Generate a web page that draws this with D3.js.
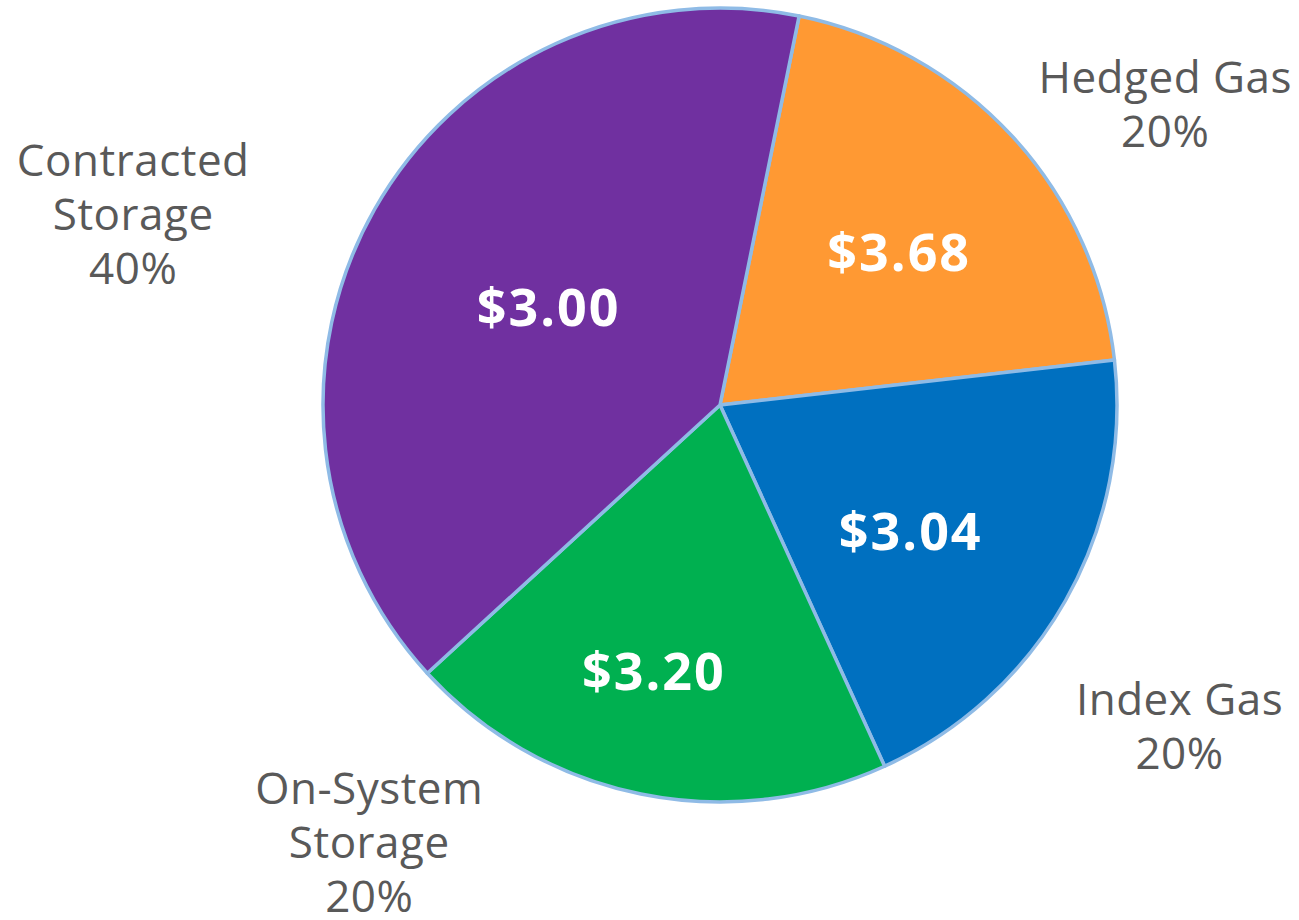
<!DOCTYPE html>
<html>
<head>
<meta charset="utf-8">
<script src="https://cdn.jsdelivr.net/npm/d3@7"></script>
<style>
  html, body { margin: 0; padding: 0; background: #fff; }
  svg text { font-family: "Open Sans", "DejaVu Sans", sans-serif; }
</style>
</head>
<body>
<svg id="chart" width="1299" height="920"></svg>
<script>
// data
var categories = ["Hedged Gas", "Index Gas", "On-System Storage", "Contracted Storage"];
var shares = [20, 20, 20, 40];
var prices = ["$3.68", "$3.04", "$3.20", "$3.00"];
var nameLines = [["Hedged Gas"], ["Index Gas"], ["On-System", "Storage"], ["Contracted", "Storage"]];
var colors = ["#FF9933", "#0070C0", "#00B050", "#7030A0"];

// layout
var cx = 720, cy = 405, radius = 397;
var startDeg = 11.5;
// polar placement of labels: [angle in degrees clockwise from top, distance from center]
var pricePos = [[49.7, 235], [123.6, 229], [193.9, 275], [299.6, 197]];
var namePos = [[56, 537], [125, 561], [218.7, 561], [288, 617]];
var lineHeight = 54;

var svg = d3.select('#chart');
var g = svg.append('g').attr('transform', 'translate(' + cx + ',' + cy + ')');

var pie = d3.pie().sort(null).value(function(d) { return d; })
	.startAngle(startDeg * Math.PI / 180)
	.endAngle(startDeg * Math.PI / 180 + 2 * Math.PI);
var arcs = pie(shares);
var arc = d3.arc().innerRadius(0).outerRadius(radius);

g.selectAll('path.slice').data(arcs).enter().append('path')
	.attr('class', 'slice')
	.attr('d', arc)
	.attr('fill', function(d, i) { return colors[i]; })
	.attr('stroke', '#8FBBE6')
	.attr('stroke-width', 3.5)
	.attr('stroke-linejoin', 'round');

var polar = function(p) {
	var a = p[0] * Math.PI / 180;
	return [Math.sin(a) * p[1], -Math.cos(a) * p[1]];
};

// price labels inside the slices
g.selectAll('text.price').data(arcs).enter().append('text')
	.attr('class', 'price')
	.attr('x', function(d, i) { return polar(pricePos[i])[0]; })
	.attr('y', function(d, i) { return polar(pricePos[i])[1]; })
	.attr('dy', '0.35em')
	.attr('text-anchor', 'middle')
	.attr('fill', '#fff')
	.attr('font-weight', 'bold')
	.attr('font-size', 52)
	.attr('letter-spacing', 2)
	.text(function(d, i) { return prices[i]; });

// category labels outside
var names = g.selectAll('text.name').data(arcs).enter().append('text')
	.attr('class', 'name')
	.attr('text-anchor', 'middle')
	.attr('fill', '#595959')
	.attr('font-size', 44)
	.attr('letter-spacing', 0.5)
	.attr('transform', function(d, i) {
		var p = polar(namePos[i]);
		var n = nameLines[i].length + 1;
		return 'translate(' + p[0] + ',' + (p[1] - (n - 1) * lineHeight / 2) + ')';
	});
names.each(function(d, i) {
	var t = d3.select(this);
	var lines = nameLines[i].concat([d3.format('.0f')(d.value) + '%']);
	lines.forEach(function(line, k) {
		t.append('tspan').attr('x', 0).attr('y', k * lineHeight).attr('dy', '0.35em').text(line);
	});
});
</script>
</body>
</html>
